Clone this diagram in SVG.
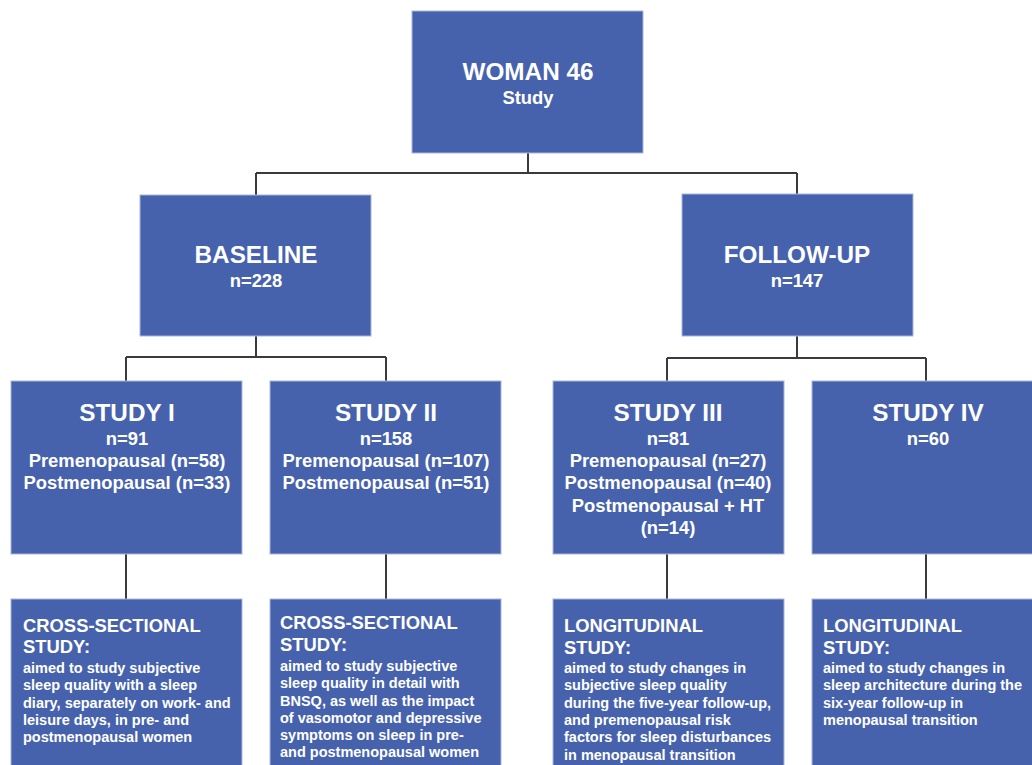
<svg xmlns="http://www.w3.org/2000/svg" width="1032" height="765" viewBox="0 0 1032 765">
<style>
.box{fill:#4762ac;stroke:#a9b5dc;stroke-width:1}
.t{font-family:"Liberation Sans",Arial,sans-serif;font-weight:bold;fill:#ffffff}
.c{text-anchor:middle}
.h24{font-size:24.3px}
.h18{font-size:18.4px}
.b14{font-size:14.5px}
.conn{fill:none;stroke:#3a3a3a;stroke-width:2}
</style>
<rect width="1032" height="765" fill="#ffffff"/>
<g id="connectors">
<path class="conn" d="M528 153V173M256 173H797M256 173V195M797 173V194"/>
<path class="conn" d="M256 336V357M126 357H386M126 357V381M386 357V381"/>
<path class="conn" d="M797 336V358M667 358H926M667 358V381M926 358V381"/>
<path class="conn" d="M126 554V599M386 554V599M667 554V599M926 554V599"/>
</g>
<g id="woman46">
<rect class="box" x="412" y="11" width="231" height="142"/>
<text class="t c h24" x="528" y="80">WOMAN 46</text>
<text class="t c h18" x="528" y="104">Study</text>
</g>
<g id="baseline">
<rect class="box" x="140" y="195" width="231" height="141"/>
<text class="t c h24" x="256" y="263">BASELINE</text>
<text class="t c h18" x="256" y="287">n=228</text>
</g>
<g id="followup">
<rect class="box" x="682" y="194" width="231" height="142"/>
<text class="t c h24" x="797" y="263">FOLLOW-UP</text>
<text class="t c h18" x="797" y="287">n=147</text>
</g>
<g id="study1">
<rect class="box" x="11" y="381" width="231" height="173"/>
<text class="t c h24" x="127" y="421">STUDY I</text>
<text class="t c h18" x="127" y="445">n=91</text>
<text class="t c h18" x="127" y="467">Premenopausal (n=58)</text>
<text class="t c h18" x="127" y="489">Postmenopausal (n=33)</text>
</g>
<g id="study2">
<rect class="box" x="270" y="381" width="231" height="173"/>
<text class="t c h24" x="386" y="421">STUDY II</text>
<text class="t c h18" x="386" y="445">n=158</text>
<text class="t c h18" x="386" y="467">Premenopausal (n=107)</text>
<text class="t c h18" x="386" y="489">Postmenopausal (n=51)</text>
</g>
<g id="study3">
<rect class="box" x="553" y="381" width="231" height="173"/>
<text class="t c h24" x="668" y="421">STUDY III</text>
<text class="t c h18" x="668" y="445">n=81</text>
<text class="t c h18" x="668" y="467">Premenopausal (n=27)</text>
<text class="t c h18" x="668" y="489">Postmenopausal (n=40)</text>
<text class="t c h18" x="668" y="512">Postmenopausal + HT</text>
<text class="t c h18" x="668" y="534">(n=14)</text>
</g>
<g id="study4">
<rect class="box" x="812" y="381" width="231" height="173"/>
<text class="t c h24" x="928" y="421">STUDY IV</text>
<text class="t c h18" x="928" y="445">n=60</text>
</g>
<g id="desc1">
<rect class="box" x="11" y="599" width="231" height="180"/>
<text class="t h18" x="23" y="632">CROSS-SECTIONAL</text>
<text class="t h18" x="23" y="653">STUDY:</text>
<text class="t b14" x="23" y="673">aimed to study subjective</text>
<text class="t b14" x="23" y="690">sleep quality with a sleep</text>
<text class="t b14" x="23" y="708">diary, separately on work- and</text>
<text class="t b14" x="23" y="725">leisure days, in pre- and</text>
<text class="t b14" x="23" y="742">postmenopausal women</text>
</g>
<g id="desc2">
<rect class="box" x="270" y="599" width="231" height="180"/>
<text class="t h18" x="280" y="629">CROSS-SECTIONAL</text>
<text class="t h18" x="280" y="651">STUDY:</text>
<text class="t b14" x="280" y="671">aimed to study subjective</text>
<text class="t b14" x="280" y="688">sleep quality in detail with</text>
<text class="t b14" x="280" y="706">BNSQ, as well as the impact</text>
<text class="t b14" x="280" y="723">of vasomotor and depressive</text>
<text class="t b14" x="280" y="740">symptoms on sleep in pre-</text>
<text class="t b14" x="280" y="757">and postmenopausal women</text>
</g>
<g id="desc3">
<rect class="box" x="553" y="599" width="231" height="180"/>
<text class="t h18" x="564" y="632">LONGITUDINAL</text>
<text class="t h18" x="564" y="654">STUDY:</text>
<text class="t b14" x="564" y="673">aimed to study changes in</text>
<text class="t b14" x="564" y="690">subjective sleep quality</text>
<text class="t b14" x="564" y="708">during the five-year follow-up,</text>
<text class="t b14" x="564" y="725">and premenopausal risk</text>
<text class="t b14" x="564" y="742">factors for sleep disturbances</text>
<text class="t b14" x="564" y="760">in menopausal transition</text>
</g>
<g id="desc4">
<rect class="box" x="812" y="599" width="231" height="180"/>
<text class="t h18" x="823" y="632">LONGITUDINAL</text>
<text class="t h18" x="823" y="654">STUDY:</text>
<text class="t b14" x="823" y="673">aimed to study changes in</text>
<text class="t b14" x="823" y="690">sleep architecture during the</text>
<text class="t b14" x="823" y="708">six-year follow-up in</text>
<text class="t b14" x="823" y="725">menopausal transition</text>
</g>
</svg>
